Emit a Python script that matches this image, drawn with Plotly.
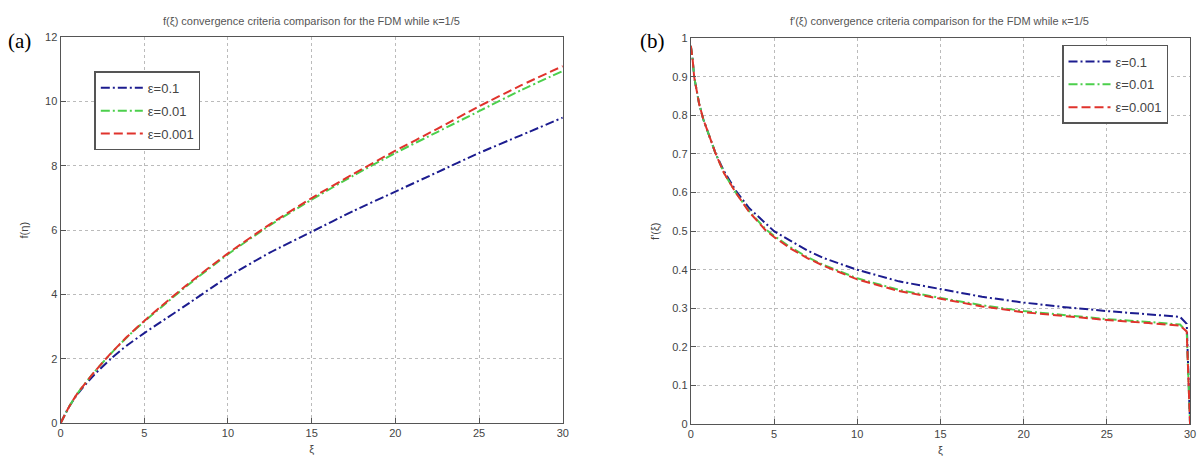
import plotly.graph_objects as go

W, H = 1203, 475

# ---- data: panel (a) f(xi) ----
xi_a = [0, 0.5, 1, 2, 3, 4, 5, 6, 7.5, 10, 12.5, 15, 17.5, 20, 22.5, 25, 27.5, 30]
f_e1 = [0, 0.5, 0.9, 1.5, 2.0, 2.43, 2.8, 3.15, 3.67, 4.55, 5.3, 5.95, 6.6, 7.2, 7.8, 8.4, 8.95, 9.5]
f_e2 = [0, 0.5, 0.92, 1.58, 2.16, 2.69, 3.16, 3.6, 4.25, 5.25, 6.15, 6.95, 7.7, 8.4, 9.05, 9.7, 10.35, 10.95]
f_e3 = [0, 0.5, 0.92, 1.58, 2.17, 2.7, 3.18, 3.63, 4.28, 5.28, 6.18, 7.0, 7.75, 8.47, 9.15, 9.85, 10.5, 11.1]

# ---- data: panel (b) f'(xi) ----
xi_b = [0, 0.1, 0.2, 0.5, 0.75, 1, 1.5, 2, 2.7, 3.5, 4.5, 5, 6, 7, 8, 10, 12.5, 15, 17.5, 20, 22.5, 25, 27.5, 29.4, 29.8, 30]
fp_e1 = [0.98, 0.95, 0.9, 0.83, 0.79, 0.76, 0.7, 0.655, 0.605, 0.56, 0.52, 0.5, 0.475, 0.45, 0.43, 0.4, 0.37, 0.35, 0.33, 0.315, 0.303, 0.293, 0.285, 0.278, 0.26, 0.0]
fp_e2 = [0.98, 0.95, 0.9, 0.83, 0.79, 0.76, 0.7, 0.65, 0.6, 0.552, 0.505, 0.488, 0.458, 0.433, 0.412, 0.378, 0.348, 0.327, 0.308, 0.293, 0.282, 0.272, 0.265, 0.258, 0.24, 0.0]
fp_e3 = [0.98, 0.95, 0.9, 0.83, 0.79, 0.76, 0.7, 0.65, 0.6, 0.55, 0.502, 0.485, 0.455, 0.43, 0.41, 0.375, 0.345, 0.325, 0.305, 0.29, 0.28, 0.27, 0.262, 0.255, 0.24, 0.0]

names = ["\u03b5=0.1", "\u03b5=0.01", "\u03b5=0.001"]
colors = ["#1c1c8f", "#4ccf4c", "#e0332c"]
dashes = ["9px,3px,2px,3px", "9px,3px,2px,3px", "9px,4px"]

fig = go.Figure()
for i, (ys, nm, c, d) in enumerate(zip([f_e1, f_e2, f_e3], names, colors, dashes)):
    fig.add_trace(go.Scatter(x=xi_a, y=ys, mode="lines", name=nm, legendgroup="a%d" % i,
                             line=dict(color=c, width=2, dash=d, shape="spline", smoothing=0.6),
                             xaxis="x", yaxis="y", legend="legend"))
for i, (ys, nm, c, d) in enumerate(zip([fp_e1, fp_e2, fp_e3], names, colors, dashes)):
    fig.add_trace(go.Scatter(x=xi_b, y=ys, mode="lines", name=nm, legendgroup="b%d" % i,
                             line=dict(color=c, width=2, dash=d),
                             xaxis="x2", yaxis="y2", legend="legend2"))

tickfont = dict(family="Liberation Sans", size=11, color="#444")
axcommon = dict(showline=True, mirror=True, linecolor="#555", linewidth=1.2, ticks="inside", ticklen=5,
                tickcolor="#555", showgrid=True, gridcolor="#bbbbbb", griddash="dot", gridwidth=1,
                zeroline=False, tickfont=tickfont)
labfont = dict(family="Liberation Sans", size=11, color="#444")

def px(v):
    return v / W

def py(v):
    return 1 - v / H

legcommon = dict(xanchor="left", yanchor="top", bgcolor="white", bordercolor="#555", borderwidth=1.5,
                 font=dict(family="Liberation Sans", size=13, color="#444"), itemwidth=42, tracegroupgap=3)

fig.update_layout(
    width=W, height=H, margin=dict(l=0, r=0, t=0, b=0),
    paper_bgcolor="white", plot_bgcolor="white",
    xaxis=dict(domain=[px(58), px(564)], range=[0, 30], tickvals=[0, 5, 10, 15, 20, 25, 30], anchor="y",
               title=dict(text="\u03be", font=labfont, standoff=6), **axcommon),
    yaxis=dict(domain=[py(428), py(32)], range=[0, 12], tickvals=[0, 2, 4, 6, 8, 10, 12], anchor="x",
               title=dict(text="f(\u03b7)", font=labfont, standoff=14), **axcommon),
    xaxis2=dict(domain=[px(693), px(1196)], range=[0, 30], tickvals=[0, 5, 10, 15, 20, 25, 30], anchor="y2",
                title=dict(text="\u03be", font=labfont, standoff=6), **axcommon),
    yaxis2=dict(domain=[py(429), py(33)], range=[0, 1], dtick=0.1, tickformat=".1~f", anchor="x2",
                title=dict(text="f'(\u03be)", font=labfont, standoff=10), **axcommon),
    legend=dict(x=px(92), y=py(67), **legcommon),
    legend2=dict(x=px(1067), y=py(40), **legcommon),
    showlegend=True,
    annotations=[
        dict(text="f(\u03be) convergence criteria comparison for the FDM while \u03ba=1/5", x=px(311), y=py(15), xref="paper", yref="paper",
             showarrow=False, font=dict(family="Liberation Sans", size=11, color="#555"), xanchor="center", yanchor="middle"),
        dict(text="f'(\u03be) convergence criteria comparison for the FDM while \u03ba=1/5", x=px(944), y=py(15), xref="paper", yref="paper",
             showarrow=False, font=dict(family="Liberation Sans", size=11, color="#555"), xanchor="center", yanchor="middle"),
        dict(text="(a)", x=px(3), y=py(36), xref="paper", yref="paper", showarrow=False, xanchor="left", yanchor="middle",
             font=dict(family="Liberation Serif", size=21, color="black")),
        dict(text="(b)", x=px(640), y=py(36), xref="paper", yref="paper", showarrow=False, xanchor="left", yanchor="middle",
             font=dict(family="Liberation Serif", size=21, color="black")),
    ],
)

fig.write_html("out.html")
